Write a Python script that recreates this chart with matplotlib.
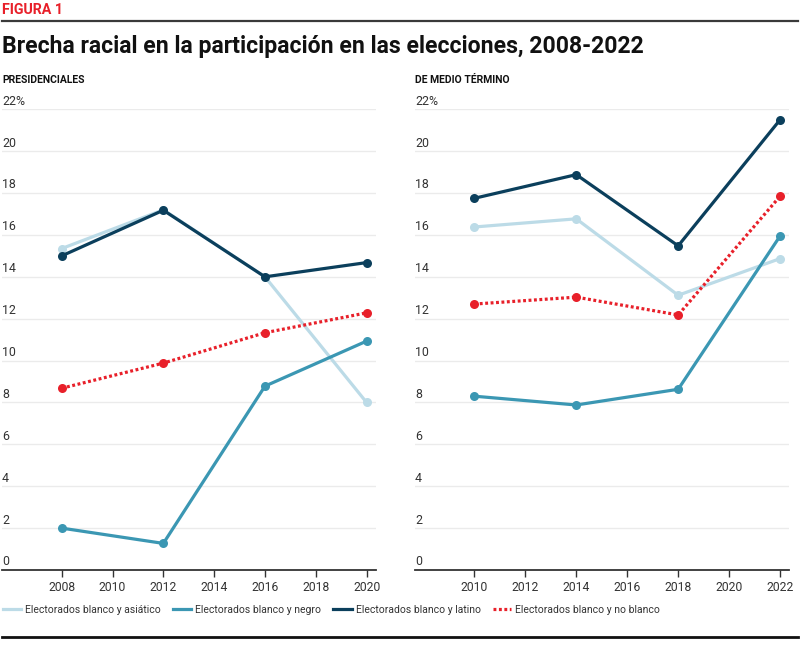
import numpy as np
import matplotlib
matplotlib.use("Agg")
import matplotlib.pyplot as plt
import matplotlib.transforms as mtransforms
from matplotlib.lines import Line2D

plt.rcParams['font.family'] = ['Roboto', 'DejaVu Sans']

# Data (percentage points)
pres_years = [2008, 2012, 2016, 2020]
pres_asian = [15.35, 17.2, 14.0, 8.0]
pres_black = [2.0, 1.27, 8.78, 10.93]
pres_latino = [15.0, 17.18, 14.0, 14.68]
pres_nonwhite = [8.68, 9.88, 11.33, 12.28]

mid_years = [2010, 2014, 2018, 2022]
mid_asian = [16.38, 16.77, 13.12, 14.87]
mid_black = [8.3, 7.88, 8.63, 15.95]
mid_latino = [17.75, 18.88, 15.48, 21.5]
mid_nonwhite = [12.7, 13.03, 12.18, 17.85]

series_names = ["Electorados blanco y asiático", "Electorados blanco y negro",
                "Electorados blanco y latino", "Electorados blanco y no blanco"]
colors = ["#bcdbe7", "#3b97b3", "#0b3f5c", "#e8202a"]
dotted = (0, (0.9, 0.8))
styles = ["-", "-", "-", dotted]

ytick_vals = [0, 2, 4, 6, 8, 10, 12, 14, 16, 18, 20, 22]
pres_xticks = [2008, 2010, 2012, 2014, 2016, 2018, 2020]
mid_xticks = [2010, 2012, 2014, 2016, 2018, 2020, 2022]

W, H = 800, 647
fig = plt.figure(figsize=(W / 100, H / 100), dpi=100)
fig.patch.set_facecolor("white")

txt = "#333333"


def draw_panel(ax, years, series, xticks, xlim, label, label_x):
    ax.set_xlim(*xlim)
    ax.set_ylim(0, 22)
    for v in ytick_vals[1:]:
        ax.axhline(v, color="#ebebeb", lw=1.0, zorder=0)
    for s, c, ls in zip(series, colors, styles):
        ax.plot(years, s, color=c, lw=2.3, ls=ls, marker="o", markersize=6.5,
                markeredgewidth=0, zorder=3, clip_on=False,
                dash_capstyle="butt")
    for sp in ["top", "right", "left"]:
        ax.spines[sp].set_visible(False)
    ax.spines["bottom"].set_color("#333333")
    ax.spines["bottom"].set_linewidth(1.3)
    ax.set_yticks([])
    ax.set_xticks(xticks)
    ax.set_xticklabels([str(x) for x in xticks])
    ax.tick_params(axis="x", length=5, width=1, color="#333333",
                   labelsize=8.7, labelcolor=txt, pad=3)
    trans = mtransforms.blended_transform_factory(ax.transAxes, ax.transData)
    for v in ytick_vals:
        lab = f"{v}%" if v == 22 else str(v)
        ax.text(0.0, v + 0.22, lab, transform=trans, ha="left", va="baseline",
                fontsize=8.9, color=txt)
    fig.text(label_x, 1 - 80 / H, label, ha="left", va="center",
             fontsize=7.5, fontweight="bold", color="#111111")


ax1 = fig.add_axes([2 / W, (H - 570) / H, 374 / W, (570 - 109.3) / H])
draw_panel(ax1, pres_years, [pres_asian, pres_black, pres_latino, pres_nonwhite],
           pres_xticks, (2005.65, 2020.37), "PRESIDENCIALES", 2 / W)

ax2 = fig.add_axes([415 / W, (H - 570) / H, 374 / W, (570 - 109.3) / H])
draw_panel(ax2, mid_years, [mid_asian, mid_black, mid_latino, mid_nonwhite],
           mid_xticks, (2007.67, 2022.35), "DE MEDIO TÉRMINO", 415 / W)

# Header
fig.text(2 / W, 1 - 10 / H, "FIGURA 1", ha="left", va="center", fontsize=10.3,
         fontweight="bold", color="#e8202a")
fig.add_artist(Line2D([2 / W, 798 / W], [1 - 21 / H, 1 - 21 / H],
                      color="#3a3a3a", lw=1.6))
fig.text(2 / W, 1 - 47 / H, "Brecha racial en la participación en las elecciones, 2008-2022",
         ha="left", va="center", fontsize=16.6, fontweight="bold", color="#111111")

# Legend
handles = [Line2D([0], [0], color=c, lw=2.3, ls=ls, dash_capstyle="butt")
           for c, ls in zip(colors, styles)]
fig.legend(handles, series_names, loc="center left", bbox_to_anchor=(-0.008, 1 - 610 / H),
           ncol=4, frameon=False, fontsize=7.5, handlelength=1.75, handletextpad=0.4,
           columnspacing=1.15, labelcolor=txt)

fig.add_artist(Line2D([2 / W, 798 / W], [1 - 636.5 / H, 1 - 636.5 / H],
                      color="#111111", lw=2.0))

fig.savefig("out.png", dpi=100, facecolor="white")
